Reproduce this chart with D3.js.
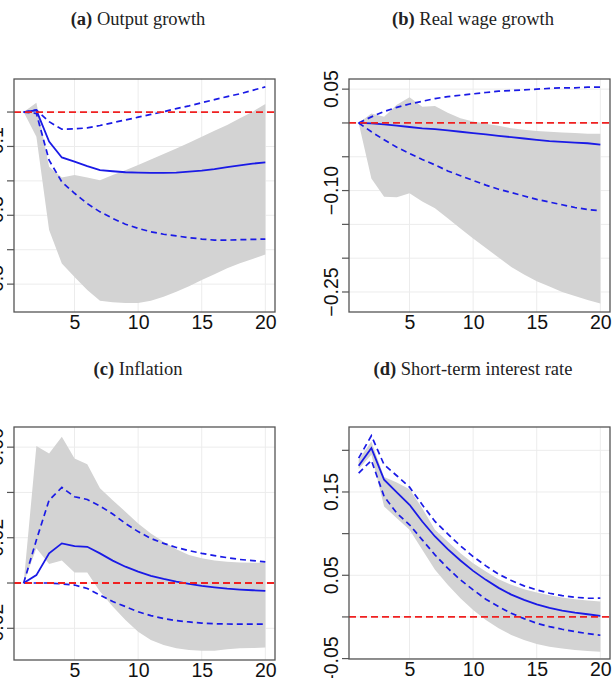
<!DOCTYPE html>
<html>
<head>
	<meta charset="UTF-8">
	<title>impulse responses</title>
	<style>
html, body {
	margin:0;padding:0;background:#fff;
}
svg { display:block; }
.tick text, .ylab {
	font-family: "Liberation Sans", Arial, sans-serif;
	font-size: 19.5px;
	fill: #111;
}
.title {
	font-family: "Liberation Serif", "Times New Roman", serif;
	font-size: 18.5px;
	fill: #222;
}
	</style>
	<script src="https://cdnjs.cloudflare.com/ajax/libs/d3/7.8.5/d3.min.js"></script>
</head>
<body>
<script>
const horizon = d3.range(1, 21);
const xTicks = [5, 10, 15, 20];

// (a) output growth
const outputMed = [0, 0.005, -0.086, -0.132, -0.144, -0.157, -0.169, -0.172, -0.175, -0.176, -0.177, -0.177, -0.176, -0.173, -0.170, -0.166, -0.160, -0.155, -0.150, -0.146];
const outputHi = [0, 0.006, -0.028, -0.050, -0.049, -0.046, -0.039, -0.031, -0.023, -0.015, -0.007, 0.001, 0.010, 0.018, 0.027, 0.036, 0.045, 0.053, 0.063, 0.073];
const outputLo = [0, -0.004, -0.140, -0.203, -0.236, -0.266, -0.290, -0.309, -0.326, -0.338, -0.348, -0.355, -0.360, -0.365, -0.369, -0.372, -0.372, -0.371, -0.370, -0.369];
const outputBandHi = [0, 0.027, -0.159, -0.190, -0.183, -0.190, -0.198, -0.183, -0.169, -0.154, -0.138, -0.122, -0.106, -0.089, -0.072, -0.054, -0.038, -0.018, 0.001, 0.023];
const outputBandLo = [0, -0.072, -0.343, -0.440, -0.479, -0.517, -0.548, -0.553, -0.555, -0.555, -0.548, -0.537, -0.522, -0.506, -0.488, -0.471, -0.454, -0.439, -0.427, -0.414];

// (b) real wage growth
const wageMed = [0, -0.0005, -0.002, -0.004, -0.006, -0.008, -0.009, -0.011, -0.013, -0.015, -0.017, -0.019, -0.021, -0.023, -0.025, -0.027, -0.028, -0.029, -0.030, -0.032];
const wageHi = [0, 0.009, 0.017, 0.023, 0.028, 0.032, 0.036, 0.039, 0.041, 0.043, 0.045, 0.047, 0.048, 0.049, 0.050, 0.051, 0.052, 0.052, 0.053, 0.053];
const wageLo = [0, -0.013, -0.025, -0.036, -0.045, -0.054, -0.062, -0.071, -0.078, -0.085, -0.092, -0.098, -0.103, -0.108, -0.113, -0.117, -0.121, -0.125, -0.128, -0.130];
const wageBandHi = [0, 0.014, 0.009, 0.027, 0.038, 0.024, 0.025, 0.015, 0.007, 0.002, -0.001, -0.004, -0.008, -0.010, -0.012, -0.013, -0.014, -0.015, -0.016, -0.016];
const wageBandLo = [0, -0.082, -0.109, -0.110, -0.104, -0.116, -0.126, -0.141, -0.156, -0.171, -0.185, -0.199, -0.213, -0.224, -0.234, -0.242, -0.250, -0.256, -0.262, -0.267];

// (c) inflation
const inflMed = [0, 0.0035, 0.0131, 0.0175, 0.0163, 0.0160, 0.0131, 0.0099, 0.0072, 0.0050, 0.0032, 0.0018, 0.0006, -0.0004, -0.0013, -0.0019, -0.0025, -0.0029, -0.0032, -0.0035];
const inflHi = [0, 0.019, 0.0366, 0.0422, 0.0381, 0.0369, 0.034, 0.0305, 0.0263, 0.0227, 0.0197, 0.0175, 0.0157, 0.0143, 0.0131, 0.0121, 0.0112, 0.0104, 0.0099, 0.0093];
const inflLo = [0, 0, 0, -0.0004, -0.0009, -0.0024, -0.0053, -0.0082, -0.0104, -0.0127, -0.0144, -0.0157, -0.0166, -0.0172, -0.0177, -0.0180, -0.0181, -0.0182, -0.0182, -0.0182];
const inflBandHi = [0, 0.0605, 0.0572, 0.0646, 0.055, 0.0525, 0.0418, 0.0366, 0.0315, 0.0263, 0.0219, 0.0182, 0.0149, 0.0124, 0.0109, 0.0099, 0.0094, 0.0091, 0.0090, 0.0090];
const inflBandLo = [0, 0.0153, 0.0084, 0.0099, 0.0046, 0.0046, -0.0038, -0.0104, -0.0163, -0.0215, -0.0252, -0.0274, -0.0288, -0.0296, -0.0299, -0.0299, -0.0293, -0.0288, -0.0287, -0.0285];

// (d) short-term interest rate
const rateMed = [0.1815, 0.2027, 0.1647, 0.1494, 0.1346, 0.1146, 0.0966, 0.0813, 0.0677, 0.0553, 0.0445, 0.0349, 0.0268, 0.0204, 0.0152, 0.0108, 0.0076, 0.0052, 0.0032, 0.0012];
const rateHi = [0.1907, 0.2175, 0.1827, 0.1695, 0.1558, 0.1346, 0.1146, 0.0998, 0.0853, 0.0725, 0.0613, 0.0513, 0.0437, 0.0373, 0.0325, 0.0284, 0.0256, 0.0236, 0.0224, 0.0225];
const rateLo = [0.1727, 0.1879, 0.1446, 0.1246, 0.1106, 0.0925, 0.0745, 0.0585, 0.0445, 0.0325, 0.0212, 0.0124, 0.0044, -0.002, -0.0076, -0.0116, -0.0148, -0.0176, -0.020, -0.022];
const rateBandHi = [0.1887, 0.2107, 0.1679, 0.1615, 0.1534, 0.1306, 0.1046, 0.0905, 0.0765, 0.0645, 0.0545, 0.0453, 0.0385, 0.0333, 0.0292, 0.026, 0.0232, 0.0212, 0.0196, 0.0184];
const rateBandLo = [0.1775, 0.1947, 0.1326, 0.1186, 0.1046, 0.0805, 0.0565, 0.0385, 0.0224, 0.0084, -0.0036, -0.0136, -0.0216, -0.0276, -0.0325, -0.0357, -0.038, -0.0397, -0.0409, -0.0417];

// y ticks and which ones carry a label
const outputTicks = [-0.5, -0.4, -0.3, -0.2, -0.1, 0];
const outputLabels = ['\u22120.5', '', '\u22120.3', '', '\u22120.1', ''];
const wageTicks = [-0.25, -0.20, -0.15, -0.10, -0.05, 0, 0.05];
const wageLabels = ['\u22120.25', '', '', '\u22120.10', '', '', '0.05'];
const inflTicks = [-0.02, 0, 0.02, 0.04, 0.06];
const inflLabels = ['\u22120.02', '', '0.02', '', '0.06'];
const rateTicks = [-0.05, 0, 0.05, 0.10, 0.15, 0.20];
const rateLabels = ['-0.05', '', '0.05', '', '0.15', ''];

const svg = d3.select('body').append('svg').attr('width', 614).attr('height', 678);

const panels = [
	{tag: '(a)', name: 'Output growth', tx: 138, ty: 25, box: [14, 275, 79, 312], yd: [-0.581, 0.096],
		med: outputMed, hi: outputHi, lo: outputLo, bHi: outputBandHi, bLo: outputBandLo, ticks: outputTicks, labels: outputLabels},
	{tag: '(b)', name: 'Real wage growth', tx: 473, ty: 25, box: [349, 610, 79, 312], yd: [-0.2796, 0.065],
		med: wageMed, hi: wageHi, lo: wageLo, bHi: wageBandHi, bLo: wageBandLo, ticks: wageTicks, labels: wageLabels},
	{tag: '(c)', name: 'Inflation', tx: 138, ty: 375, box: [14, 275, 427, 660], yd: [-0.034, 0.0689],
		med: inflMed, hi: inflHi, lo: inflLo, bHi: inflBandHi, bLo: inflBandLo, ticks: inflTicks, labels: inflLabels},
	{tag: '(d)', name: 'Short-term interest rate', tx: 473, ty: 375, box: [349, 610, 427, 659], yd: [-0.0505, 0.228],
		med: rateMed, hi: rateHi, lo: rateLo, bHi: rateBandHi, bLo: rateBandLo, ticks: rateTicks, labels: rateLabels}
];

const drawPanel = p => {
	const [left, right, top, bottom] = p.box;
	const x = d3.scaleLinear().domain([0.24, 20.76]).range([left, right]);
	const y = d3.scaleLinear().domain(p.yd).range([bottom, top]);
	const g = svg.append('g');

	// title
	const t = svg.append('text').attr('class', 'title').attr('x', p.tx).attr('y', p.ty).attr('text-anchor', 'middle');
	t.append('tspan').attr('font-weight', 'bold').text(p.tag);
	t.append('tspan').text(' ' + p.name);

	// grid
	g.selectAll('.gy').data(p.ticks).enter().append('line')
		.attr('x1', left).attr('x2', right).attr('y1', d => y(d)).attr('y2', d => y(d))
		.attr('stroke', '#ececec').attr('stroke-width', 1);
	g.selectAll('.gx').data(xTicks).enter().append('line')
		.attr('y1', top).attr('y2', bottom).attr('x1', d => x(d)).attr('x2', d => x(d))
		.attr('stroke', '#ececec').attr('stroke-width', 1);

	// band
	const area = d3.area().x((d, i) => x(horizon[i])).y0((d, i) => y(p.bLo[i])).y1(d => y(d));
	g.append('path').datum(p.bHi).attr('d', area).attr('fill', '#d3d3d3');

	const line = d3.line().x((d, i) => x(horizon[i])).y(d => y(d));
	[p.hi, p.lo].forEach(s => {
		g.append('path').datum(s).attr('d', line).attr('fill', 'none')
			.attr('stroke', '#1a1ae6').attr('stroke-width', 1.7).attr('stroke-dasharray', '6,4');
	});
	g.append('path').datum(p.med).attr('d', line).attr('fill', 'none')
		.attr('stroke', '#1a1ae6').attr('stroke-width', 1.8);

	// zero line
	g.append('line').attr('x1', left).attr('x2', right).attr('y1', y(0)).attr('y2', y(0))
		.attr('stroke', '#f02020').attr('stroke-width', 1.8).attr('stroke-dasharray', '7,4');

	// box
	g.append('rect').attr('x', left).attr('y', top).attr('width', right - left).attr('height', bottom - top)
		.attr('fill', 'none').attr('stroke', '#555').attr('stroke-width', 1.3);

	// y axis
	g.selectAll('.yt').data(p.ticks).enter().append('line')
		.attr('x1', left - 7).attr('x2', left).attr('y1', d => y(d)).attr('y2', d => y(d))
		.attr('stroke', '#555').attr('stroke-width', 1.2);
	g.selectAll('.yl').data(p.ticks).enter().append('text')
		.attr('class', 'ylab')
		.attr('text-anchor', 'middle')
		.attr('transform', d => `translate(${left - 11},${y(d)}) rotate(-90)`)
		.text((d, i) => p.labels[i]);

	// x axis labels, no tick marks
	g.append('g').attr('transform', `translate(0,${bottom + 17})`)
		.call(d3.axisBottom(x).tickValues(xTicks).tickSize(0).tickPadding(0))
		.call(a => a.select('.domain').remove())
		.call(a => a.selectAll('text').attr('dy', 0).attr('fill', '#111'));
};

panels.forEach(drawPanel);
</script>
</body>
</html>
